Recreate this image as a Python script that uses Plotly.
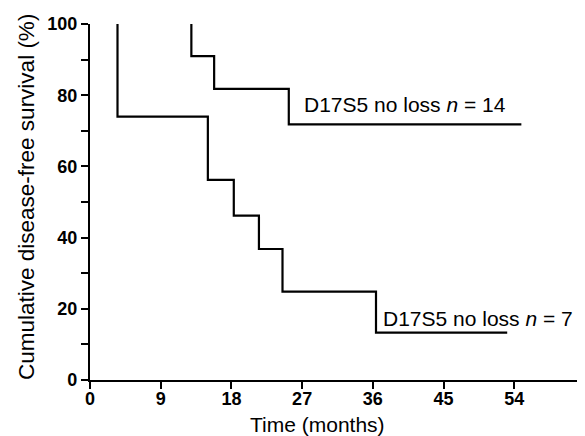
import plotly.graph_objects as go

# Kaplan-Meier step data
upper_time = [12.9, 12.9, 15.8, 25.3, 54.9]
upper_surv = [100, 91.0, 81.8, 71.8, 71.8]
upper_label = "D17S5 no loss <i>n</i> = 14"

lower_time = [3.5, 3.5, 15.0, 18.3, 21.5, 24.5, 36.4, 53.1]
lower_surv = [100, 74.0, 56.2, 46.2, 36.8, 24.8, 13.3, 13.3]
lower_label = "D17S5 no loss <i>n</i> = 7"

x_ticks = [0, 9, 18, 27, 36, 45, 54]
y_ticks = [0, 10, 20, 30, 40, 50, 60, 70, 80, 90, 100]
y_ticktext = ["0", "", "20", "", "40", "", "60", "", "80", "", "100"]

FONT = "Liberation Sans, Arial, Helvetica, sans-serif"

# the page body has an 8px margin: size the figure so it fills the window
OFF = 8
W, H = 585 - OFF, 436 - OFF
L, R, T, B = 90 - OFF, 0, 24 - OFF, 56
pw, ph = W - L - R, H - T - B


def px_to_paper(px, py):
    """page pixel position -> paper coordinates"""
    fx, fy = px - OFF, py - OFF
    return (fx - L) / pw, (H - B - fy) / ph


fig = go.Figure()
for t, s in [(upper_time, upper_surv), (lower_time, lower_surv)]:
    fig.add_trace(go.Scatter(
        x=t, y=s, mode="lines", line=dict(shape="hv", color="black", width=2.2),
        cliponaxis=False, showlegend=False, hoverinfo="skip"))

fig.add_annotation(x=27, y=77.5, xref="x", yref="y", text=upper_label,
                   showarrow=False, xanchor="left", yanchor="middle",
                   font=dict(family=FONT, size=21, color="black"))
fig.add_annotation(x=37, y=17.4, xref="x", yref="y", text=lower_label,
                   showarrow=False, xanchor="left", yanchor="middle",
                   font=dict(family=FONT, size=21, color="black"))

# axis titles
xt_x, xt_y = px_to_paper(317, 424)
fig.add_annotation(x=xt_x, y=xt_y, xref="paper", yref="paper", text="Time (months)",
                   showarrow=False, xanchor="center", yanchor="middle",
                   font=dict(family=FONT, size=21, color="black"))
yt_x, yt_y = px_to_paper(26, 197)
fig.add_annotation(x=yt_x, y=yt_y, xref="paper", yref="paper",
                   text="Cumulative disease-free survival (%)", textangle=-90,
                   showarrow=False, xanchor="center", yanchor="middle",
                   font=dict(family=FONT, size=22.5, color="black"))

fig.update_layout(
    width=W, height=H,
    margin=dict(l=L, r=R, t=T, b=B, autoexpand=False),
    paper_bgcolor="white", plot_bgcolor="white",
    font=dict(family=FONT, color="black"),
    xaxis=dict(range=[0, 63], tickvals=x_ticks, ticks="outside", ticklen=7,
               tickwidth=2, tickcolor="black", showline=True, linecolor="black",
               linewidth=2.2, showgrid=False, zeroline=False,
               ticklabelstandoff=-6,
               tickfont=dict(family=FONT, size=18, color="black", weight="bold")),
    yaxis=dict(range=[0, 100], tickvals=y_ticks, ticktext=y_ticktext,
               ticks="outside", ticklen=7, tickwidth=2, tickcolor="black",
               showline=True, linecolor="black", linewidth=2.2, showgrid=False,
               zeroline=False,
               tickfont=dict(family=FONT, size=18, color="black", weight="bold")),
)

fig.write_html("out.html")
